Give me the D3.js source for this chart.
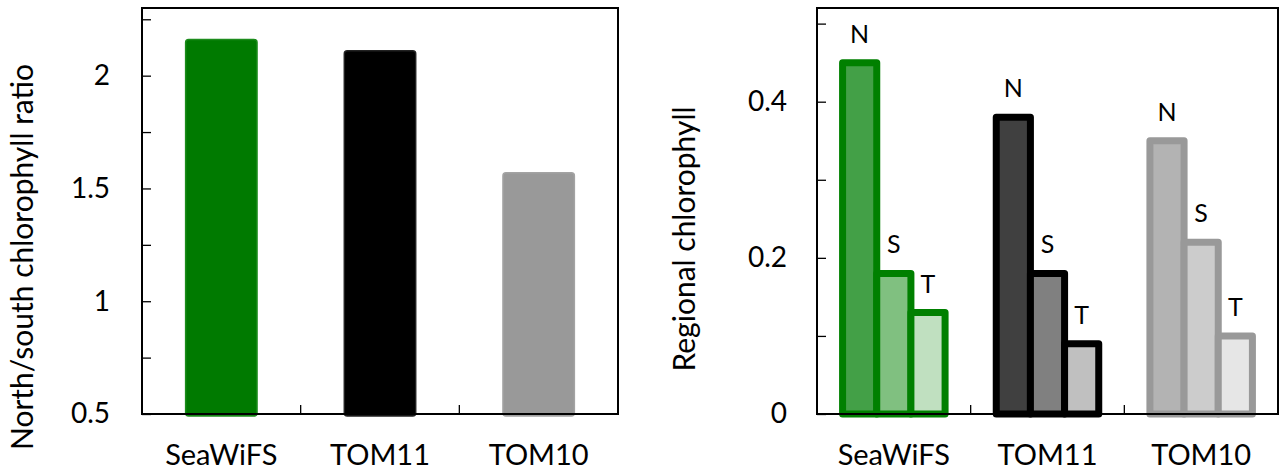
<!DOCTYPE html>
<html>
<head>
<meta charset="utf-8">
<script src="https://cdn.jsdelivr.net/npm/d3@7"></script>
<style>
  html, body { margin: 0; padding: 0; background: #fff; }
  svg { display: block; }
  text { font-family: Lato, "Open Sans", sans-serif; fill: #000; }
</style>
</head>
<body>
<svg id="chart" width="1282" height="475"></svg>
<script>
// ---- data ----
const categories = ["SeaWiFS", "TOM11", "TOM10"];
const ratioValues = [2.16, 2.11, 1.57];
const regions = ["N", "S", "T"];
const regionalN = [0.45, 0.38, 0.35];
const regionalS = [0.18, 0.18, 0.22];
const regionalT = [0.13, 0.09, 0.10];
const leftTicks = [0.5, 0.75, 1, 1.25, 1.5, 1.75, 2, 2.25];
const leftTickLabels = ["0.5", "", "1", "", "1.5", "", "2", ""];
const rightTicks = [0, 0.1, 0.2, 0.3, 0.4, 0.5];
const rightTickLabels = ["0", "", "0.2", "", "0.4", ""];

// ---- styles ----
const leftFill = ["#007a00", "#000000", "#999999"];
const leftStroke = ["#1c8c1c", "#222222", "#a3a3a3"];
const rightStroke = ["#008000", "#000000", "#999999"];
const rightFill = [
  ["#43a047", "#80c080", "#c0e0c0"],
  ["#404040", "#808080", "#c0c0c0"],
  ["#b3b3b3", "#cccccc", "#e6e6e6"]
];

const svg = d3.select("#chart");
const tickFont = 28;
const catFont = 29;
const titleFont = 30;

// ================= LEFT PANEL =================
const L = { x0: 142, x1: 618, y0: 8, y1: 414 };
const xL = d3.scaleBand().domain(categories).range([L.x0, L.x1]).paddingInner(0.55).paddingOuter(0.275);
const yL = d3.scaleLinear().domain([0.5, 2.3]).range([L.y1, L.y0]);

const gL = svg.append("g");
gL.selectAll("rect.bar").data(categories).join("rect")
  .attr("class", "bar")
  .attr("x", d => xL(d))
  .attr("width", xL.bandwidth())
  .attr("y", (d, i) => yL(ratioValues[i]))
  .attr("height", (d, i) => yL(0.5) + 2 - yL(ratioValues[i]))
  .attr("rx", 3)
  .attr("fill", (d, i) => leftFill[i])
  .attr("stroke", (d, i) => leftStroke[i])
  .attr("stroke-width", 1.5);

// y axis
const axL = gL.append("g").attr("transform", `translate(${L.x0},0)`)
  .call(d3.axisLeft(yL).tickValues(leftTicks).tickSize(-9).tickPadding(32)
    .tickFormat((d, i) => leftTickLabels[i]));
axL.select(".domain").remove();
axL.selectAll(".tick line").attr("stroke", "#000").attr("stroke-width", 1.3);
axL.selectAll(".tick text").style("font-size", tickFont + "px").style("font-family", "Lato");

// x labels
const axLB = gL.append("g").attr("transform", `translate(0,${L.y1})`)
  .call(d3.axisBottom(xL).tickSize(0).tickPadding(30));
axLB.select(".domain").remove();
axLB.selectAll(".tick text").style("font-size", catFont + "px").style("font-family", "Lato");

// between-category ticks
gL.selectAll("line.sep").data(categories.slice(1)).join("line")
  .attr("class", "sep")
  .attr("x1", d => xL(d) - xL.step() * xL.paddingInner() / 2)
  .attr("x2", d => xL(d) - xL.step() * xL.paddingInner() / 2)
  .attr("y1", L.y1).attr("y2", L.y1 - 9)
  .attr("stroke", "#000").attr("stroke-width", 1.3);

gL.append("rect").attr("x", L.x0).attr("y", L.y0)
  .attr("width", L.x1 - L.x0).attr("height", L.y1 - L.y0)
  .attr("fill", "none").attr("stroke", "#000").attr("stroke-width", 2);

gL.append("text")
  .attr("transform", `translate(33,257) rotate(-90)`)
  .attr("text-anchor", "middle")
  .style("font-size", titleFont + "px")
  .text("North/south chlorophyll ratio");

// ================= RIGHT PANEL =================
const R = { x0: 817, x1: 1278, y0: 8, y1: 414 };
const x0R = d3.scaleBand().domain(categories).range([R.x0, R.x1]).paddingInner(0.333).paddingOuter(0.1665);
const x1R = d3.scaleBand().domain(regions).range([0, x0R.bandwidth()]).padding(0);
const yR = d3.scaleLinear().domain([0, 0.52]).range([R.y1, R.y0]);
const regionalValues = [regionalN, regionalS, regionalT];

const gR = svg.append("g");
const groups = gR.selectAll("g.grp").data(categories).join("g")
  .attr("class", "grp")
  .attr("transform", d => `translate(${x0R(d)},0)`);

groups.each(function(cat, ci) {
  const g = d3.select(this);
  const recs = regions.map((r, ri) => ({ r, ri, v: regionalValues[ri][ci] }));
  g.selectAll("rect").data(recs).join("rect")
    .attr("x", d => x1R(d.r))
    .attr("width", x1R.bandwidth())
    .attr("y", d => yR(d.v))
    .attr("height", d => yR(0) - yR(d.v))
    .attr("fill", d => rightFill[ci][d.ri])
    .attr("stroke", rightStroke[ci])
    .attr("stroke-width", 7)
    .attr("stroke-linejoin", "round");
  g.selectAll("text").data(recs).join("text")
    .attr("x", d => x1R(d.r) + x1R.bandwidth() / 2)
    .attr("y", d => yR(d.v) - 20)
    .attr("text-anchor", "middle")
    .style("font-size", "25px")
    .text(d => d.r);
});

const axR = gR.append("g").attr("transform", `translate(${R.x0},0)`)
  .call(d3.axisLeft(yR).tickValues(rightTicks).tickSize(-9).tickPadding(30)
    .tickFormat((d, i) => rightTickLabels[i]));
axR.select(".domain").remove();
axR.selectAll(".tick line").attr("stroke", "#000").attr("stroke-width", 1.3);
axR.selectAll(".tick text").style("font-size", tickFont + "px").style("font-family", "Lato");

const axRB = gR.append("g").attr("transform", `translate(0,${R.y1})`)
  .call(d3.axisBottom(x0R).tickSize(0).tickPadding(30));
axRB.select(".domain").remove();
axRB.selectAll(".tick text").style("font-size", catFont + "px").style("font-family", "Lato");

gR.selectAll("line.sep").data(categories.slice(1)).join("line")
  .attr("class", "sep")
  .attr("x1", d => x0R(d) - x0R.step() * x0R.paddingInner() / 2)
  .attr("x2", d => x0R(d) - x0R.step() * x0R.paddingInner() / 2)
  .attr("y1", R.y1).attr("y2", R.y1 - 9)
  .attr("stroke", "#000").attr("stroke-width", 1.3);

gR.append("rect").attr("x", R.x0).attr("y", R.y0)
  .attr("width", R.x1 - R.x0).attr("height", R.y1 - R.y0)
  .attr("fill", "none").attr("stroke", "#000").attr("stroke-width", 2);

gR.append("text")
  .attr("transform", `translate(695,239) rotate(-90)`)
  .attr("text-anchor", "middle")
  .style("font-size", titleFont + "px")
  .text("Regional chlorophyll");
</script>
</body>
</html>
